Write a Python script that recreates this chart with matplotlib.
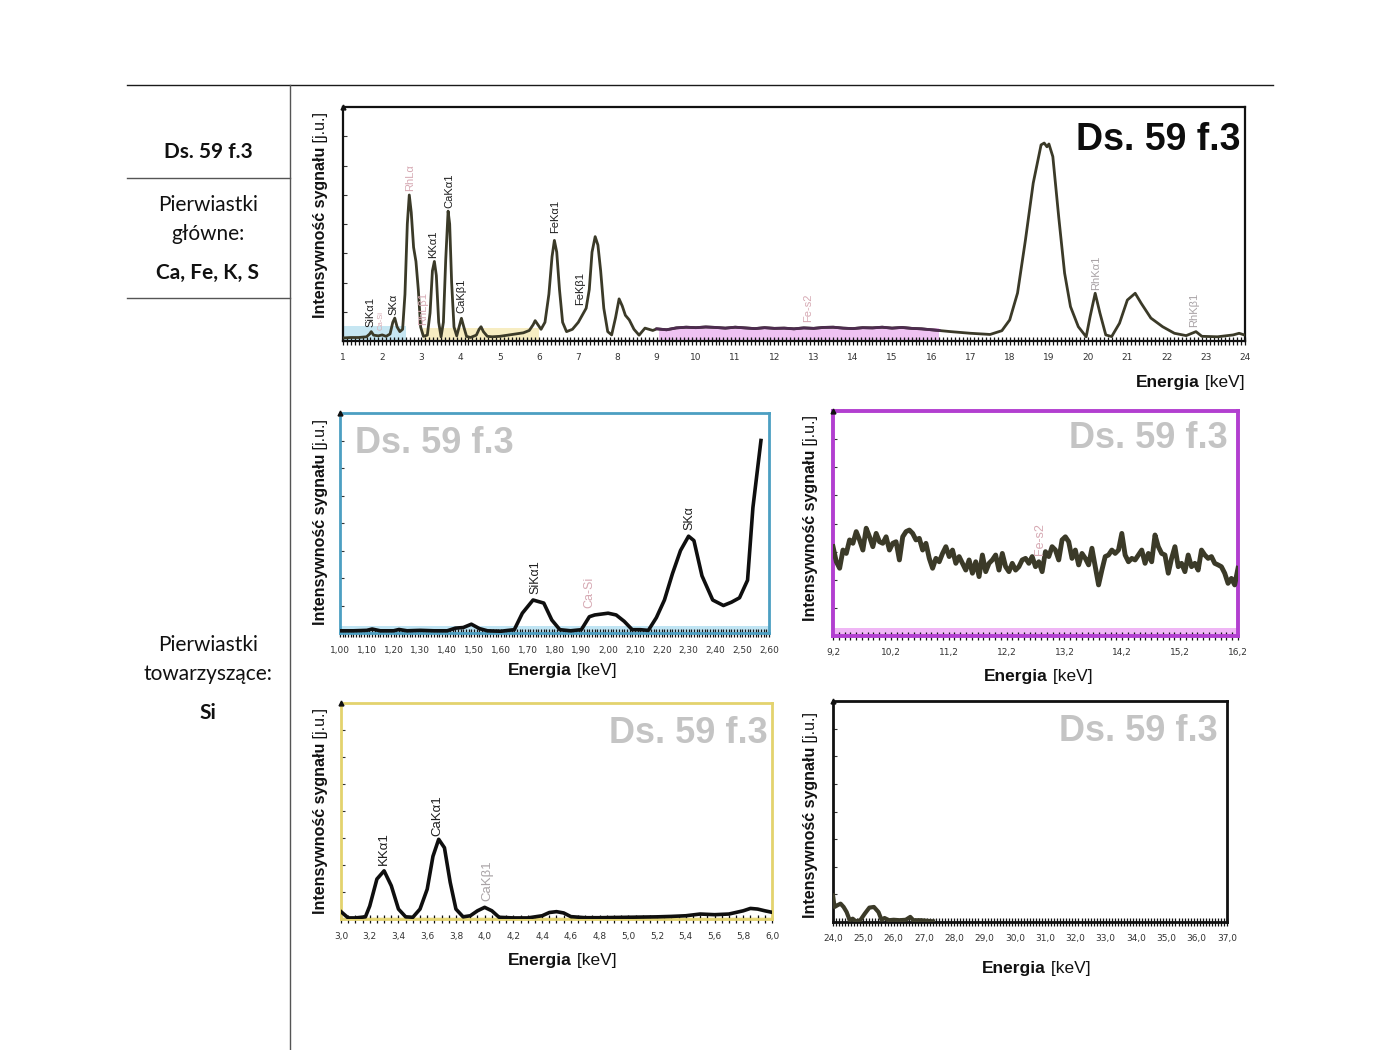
import matplotlib
matplotlib.use("Agg")
import matplotlib.pyplot as plt
import numpy as np
from matplotlib.lines import Line2D
from matplotlib import font_manager

# ---------------- data ----------------
main_E = [1.0, 1.2, 1.4, 1.6, 1.68, 1.72, 1.78, 1.9, 2.0, 2.1, 2.2, 2.27, 2.32, 2.38, 2.45, 2.52,
          2.58, 2.64, 2.69, 2.74, 2.8, 2.86, 2.92, 2.98, 3.05, 3.15, 3.22, 3.28, 3.33, 3.38, 3.44,
          3.5, 3.56, 3.62, 3.68, 3.72, 3.77, 3.83, 3.9, 3.96, 4.02, 4.08, 4.15, 4.25, 4.4, 4.47,
          4.52, 4.58, 4.68, 4.8, 5.0, 5.2, 5.4, 5.6, 5.75, 5.85, 5.9, 5.97, 6.05, 6.15, 6.25, 6.33,
          6.39, 6.45, 6.52, 6.6, 6.7, 6.85, 7.0, 7.1, 7.2, 7.28, 7.35, 7.43, 7.5, 7.57, 7.65, 7.75,
          7.85, 7.95, 8.04, 8.12, 8.2, 8.3, 8.42, 8.55, 8.7, 8.8, 8.9, 9.0]
main_I = [1.3, 1.5, 1.5, 1.8, 3.0, 4.0, 2.5, 2.2, 2.6, 2.0, 3.0, 8.0, 9.8, 6.0, 4.0, 5.0,
          20.0, 50.0, 62.4, 55.0, 40.0, 34.0, 22.0, 6.0, 2.0, 2.5, 12.0, 30.0, 34.0, 28.0, 8.0,
          1.8, 8.0, 35.0, 55.5, 50.0, 25.0, 6.0, 2.2, 6.0, 9.7, 6.0, 2.0, 1.5, 2.5, 5.0,
          6.1, 4.0, 2.0, 1.8, 2.0, 2.5, 3.0, 3.5, 4.5, 7.0, 8.7, 7.0, 5.0, 8.0, 20.0, 36.0,
          43.0, 38.0, 22.0, 8.0, 4.0, 5.0, 8.0, 11.0, 14.0, 22.0, 38.0, 44.6, 41.0, 30.0, 14.0, 4.0,
          2.6, 10.0, 18.0, 15.0, 11.0, 9.0, 5.0, 2.5, 5.5, 5.0, 4.5, 5.2]
mid_E = [9.25, 9.5, 9.75, 10.0, 10.25, 10.5, 10.75, 11.0, 11.25, 11.5, 11.75, 12.0, 12.25, 12.5,
         12.75, 13.0, 13.25, 13.5, 13.75, 14.0, 14.25, 14.5, 14.75, 15.0, 15.25, 15.5, 15.75, 16.0]
mid_I = [4.8, 5.6, 5.9, 5.7, 6.0, 5.8, 5.5, 5.9, 5.6, 5.3, 5.7, 5.4, 5.5, 5.2,
         5.6, 5.4, 5.8, 5.9, 5.5, 5.3, 5.7, 5.6, 5.9, 5.5, 5.8, 5.4, 5.2, 4.8]
high_E = [16.2, 16.5, 17.0, 17.5, 17.8, 18.0, 18.2, 18.4, 18.6, 18.8, 18.88, 18.95, 19.0, 19.1,
          19.25, 19.4, 19.55, 19.75, 19.95, 20.05, 20.18, 20.3, 20.45, 20.6, 20.8, 21.0, 21.2,
          21.35, 21.6, 21.9, 22.2, 22.5, 22.75, 22.9, 23.3, 23.7, 23.85, 24.0]
high_I = [4.5, 4.0, 3.3, 2.8, 4.4, 9.0, 20.5, 43.0, 67.5, 83.8, 84.6, 83.0, 84.2, 78.8,
          53.0, 29.0, 14.7, 6.1, 1.8, 10.4, 20.4, 12.0, 2.6, 1.9, 7.6, 17.5, 20.4,
          16.2, 9.8, 6.1, 3.3, 2.3, 4.0, 2.0, 1.8, 2.6, 3.3, 2.5]

blue_E = [1.00, 1.05, 1.10, 1.12, 1.15, 1.20, 1.22, 1.25, 1.30, 1.35, 1.40, 1.43, 1.46, 1.49, 1.52,
          1.55, 1.60, 1.65, 1.68, 1.72, 1.76, 1.79, 1.82, 1.86, 1.90, 1.93, 1.95, 2.00, 2.03, 2.06,
          2.09, 2.12, 2.15, 2.18, 2.21, 2.24, 2.27, 2.30, 2.32, 2.35, 2.39, 2.43, 2.46, 2.49, 2.52,
          2.54, 2.57]
blue_I = [1.0, 1.0, 1.2, 1.8, 1.0, 1.0, 1.6, 1.0, 1.2, 1.0, 1.0, 2.2, 2.5, 4.0, 2.0,
          1.0, 0.8, 1.5, 9.0, 15.0, 13.6, 5.9, 1.5, 1.0, 1.5, 7.4, 8.2, 9.0, 8.2, 5.3,
          1.5, 1.5, 1.2, 7.0, 15.0, 27.0, 37.5, 44.0, 42.0, 26.0, 15.0, 12.5, 14.0, 16.0, 24.0,
          57.0, 87.5]

purple_I = [39.7, 33.0, 30.1, 38.2, 36.7, 42.7, 41.2, 46.4, 42.7, 38.2, 47.9, 44.1, 39.7, 45.6, 41.9,
            41.2, 44.1, 38.2, 41.2, 41.9, 33.8, 44.1, 46.4, 47.1, 45.6, 42.7, 43.4, 38.2, 41.2, 34.5,
            30.1, 34.5, 33.0, 36.7, 39.7, 35.3, 38.2, 32.3, 35.3, 32.3, 29.3, 33.8, 27.9, 33.0, 26.4,
            36.0, 28.6, 32.3, 33.8, 36.0, 29.3, 36.7, 30.8, 28.6, 32.3, 29.3, 30.8, 33.8, 34.5, 32.3,
            35.3, 30.8, 33.0,
            28.6, 37.5, 35.3, 39.7, 38.2, 33.8, 42.7, 44.1, 41.9, 34.5, 38.2, 31.6, 36.7, 34.5, 31.6,
            39.0, 30.8, 22.7, 29.3, 35.3, 36.0, 38.2, 36.7, 38.2, 45.6, 36.0, 33.0, 34.5, 33.8, 36.0,
            38.2, 32.3, 36.7, 33.0, 44.9, 39.7, 36.7, 36.0, 27.9, 34.5, 39.7, 30.8, 32.3, 28.6, 36.0,
            30.8, 32.3, 29.3, 38.2, 36.0, 34.5, 35.3, 32.3, 31.6, 30.8, 27.9, 23.4, 25.6, 22.7, 30.1]
purple_E = np.linspace(9.2, 16.2, len(purple_I))  # sampling grid of the trace

yellow_E = [3.00, 3.05, 3.10, 3.17, 3.20, 3.25, 3.30, 3.35, 3.40, 3.45, 3.50, 3.55, 3.60, 3.64, 3.68,
            3.72, 3.76, 3.80, 3.85, 3.90, 3.95, 4.00, 4.05, 4.10, 4.20, 4.30, 4.40, 4.45, 4.50, 4.55,
            4.60, 4.70, 4.80, 5.00, 5.20, 5.30, 5.40, 5.50, 5.60, 5.70, 5.80, 5.85, 5.90, 5.95, 6.00]
yellow_I = [3.4, 0.5, 0.5, 1.0, 6.0, 18.5, 22.3, 15.4, 4.6, 1.0, 0.8, 4.6, 13.8, 29.0, 36.9,
            33.0, 17.0, 4.6, 1.0, 1.5, 3.8, 5.4, 3.8, 0.8, 0.5, 0.5, 1.5, 3.0, 3.4, 2.8,
            1.1, 0.6, 0.6, 0.8, 1.0, 1.2, 1.5, 2.3, 2.0, 2.3, 3.8, 4.9, 4.6, 3.8, 3.1]

black_E = [24.0, 24.05, 24.15, 24.25, 24.35, 24.45, 24.55, 24.65, 24.75, 24.9, 25.05, 25.2, 25.35,
           25.5, 25.6, 25.7, 25.85, 26.0, 26.2, 26.4, 26.55, 26.65, 26.9, 27.3]
black_I = [12.0, 6.8, 7.6, 8.3, 6.8, 4.5, 0.8, 1.5, 0.3, 0.8, 3.8, 6.5, 6.8,
           4.5, 1.0, 1.8, 0.8, 1.0, 0.8, 1.0, 2.3, 0.8, 0.8, 0.3]

# peak annotations: (text, energy, height of text base, kind)
main_labels = [("SiKα1", 1.70, 6.0, "k"), ("SKα", 2.3, 11.0, "k"),
               ("RhLα", 2.7, 64.0, "p"), ("RhLβ1", 3.05, 7.0, "p"), ("KKα1", 3.3, 35.5, "k"),
               ("CaKα1", 3.7, 57.0, "k"), ("CaKβ1", 4.02, 12.0, "k"), ("FeKα1", 6.4, 46.0, "k"),
               ("FeKβ1", 7.05, 15.4, "k"), ("Fe-s2", 12.85, 8.0, "p"), ("RhKα1", 20.2, 22.0, "g"),
               ("RhKβ1", 22.7, 6.0, "g")]
main_small_labels = [("Ca-Si", 1.97, 4.5, "p")]
blue_labels = [("SiKα1", 1.73, 17.5, "k"), ("Ca-Si", 1.93, 11.4, "p"), ("SKα", 2.305, 47.0, "k")]
purple_labels = [("Fe-s2", 12.78, 36.0, "p")]
yellow_labels = [("KKα1", 3.30, 25.0, "k"), ("CaKα1", 3.67, 38.5, "k"), ("CaKβ1", 4.02, 8.3, "g")]

main_ticks = list(range(1, 25))
blue_ticks = [1.00, 1.10, 1.20, 1.30, 1.40, 1.50, 1.60, 1.70, 1.80, 1.90, 2.00, 2.10, 2.20, 2.30,
              2.40, 2.50, 2.60]
purple_ticks = [9.2, 10.2, 11.2, 12.2, 13.2, 14.2, 15.2, 16.2]
yellow_ticks = [3.0, 3.2, 3.4, 3.6, 3.8, 4.0, 4.2, 4.4, 4.6, 4.8, 5.0, 5.2, 5.4, 5.6, 5.8, 6.0]
black_ticks = [24.0, 25.0, 26.0, 27.0, 28.0, 29.0, 30.0, 31.0, 32.0, 33.0, 34.0, 35.0, 36.0, 37.0]

# ---------------- styling ----------------
names = {f.name for f in font_manager.fontManager.ttflist}
SANS = "Liberation Sans" if "Liberation Sans" in names else "DejaVu Sans"
NARROW = "Liberation Sans Narrow" if "Liberation Sans Narrow" in names else SANS
DOC = "Lato" if "Lato" in names else SANS
LINE = "#3b3a28"
LABEL_COL = {"k": "#1e1e1e", "p": "#d6a9b3", "g": "#a9a3a6"}

W, H = 1400, 1050
fig = plt.figure(figsize=(14, 10.5), dpi=100)
fig.patch.set_facecolor("white")


def fx(px):
    return px / W


def fy(py):
    return 1 - py / H


def hline(x0, x1, y, col="#1a1a1a", lw=1.0):
    fig.add_artist(Line2D([fx(x0), fx(x1)], [fy(y), fy(y)], color=col, lw=lw))


def vline(x, y0, y1, col="#555555", lw=1.0):
    fig.add_artist(Line2D([fx(x), fx(x)], [fy(y0), fy(y1)], color=col, lw=lw))


# document table lines
hline(127, 1273, 85)
vline(290, 85, 1050)
hline(127, 290, 178, col="#555555")
hline(127, 290, 298, col="#555555")

doc_texts = [("Ds. 59 f.3", 152, "bold"), ("Pierwiastki", 205, "normal"), ("główne:", 234, "normal"),
             ("Ca, Fe, K, S", 273, "bold"), ("Pierwiastki", 645, "normal"),
             ("towarzyszące:", 674, "normal"), ("Si", 713, "bold")]
for txt, py, wt in doc_texts:
    fig.text(fx(208), fy(py), txt, ha="center", va="center", fontsize=15, weight=wt,
             family=DOC, color="#111111")


def make_ax(l, t, r, b, xlim, ticks, fmt, minor_step, edge, elw):
    ax = fig.add_axes([fx(l), fy(b), (r - l) / W, (b - t) / H])
    ax.set_xlim(*xlim)
    ax.set_ylim(0, 100)
    ax.set_xticks(ticks)
    ax.set_xticklabels([fmt(v) for v in ticks])
    ax.set_xticks(np.arange(xlim[0], xlim[1] + minor_step / 2, minor_step), minor=True)
    ax.tick_params(axis="x", which="both", direction="inout", length=6, width=0.9,
                   color="#111111", labelsize=6.5, labelcolor="#333333", pad=6)
    ax.set_yticks(np.arange(0, 100, 12.5))
    ax.set_yticklabels([])
    ax.tick_params(axis="y", which="both", direction="in", length=3, width=0.8, color="#333333")
    for s in ax.spines.values():
        s.set_color(edge)
        s.set_linewidth(elw)
    ax.plot([0], [1], marker="^", color="#111111", markersize=3.5, transform=ax.transAxes,
            clip_on=False, zorder=6)
    return ax


def peak_labels(ax, labels, size):
    for txt, e, base, kind in labels:
        ax.text(e, base, txt, rotation=90, ha="center", va="bottom", fontsize=size,
                family=SANS, color=LABEL_COL[kind], zorder=5)


def comma(d):
    return lambda v: f"{v:.{d}f}".replace(".", ",")


# ---------------- main spectrum ----------------
ax0 = make_ax(343, 107, 1245, 341, (1, 24), main_ticks, lambda v: str(int(v)), 0.1, "#111111", 1.6)
ax0.fill_between([1.0, 2.6], 0, 6.4, color="#c6e6f2", zorder=1, lw=0)
ax0.fill_between([3.05, 6.0], 0, 5.5, color="#f7edc2", zorder=1, lw=0)
ax0.fill_between([9.05, 16.2], 0, 5.5, color="#efc2f2", zorder=1, lw=0)
all_E = main_E + mid_E + high_E
all_I = main_I + mid_I + high_I
ax0.plot(all_E, all_I, color=LINE, lw=2.0, zorder=3, solid_joinstyle="round")
ax0.plot([9.0] + mid_E + [16.2], [5.2] + mid_I + [4.5], color="#4d2c4f", lw=2.0, zorder=4)
peak_labels(ax0, main_labels, 8)
peak_labels(ax0, main_small_labels, 5.5)
ax0.text(0.995, 0.86, "Ds. 59 f.3", transform=ax0.transAxes, ha="right", va="center",
         fontsize=27, weight="bold", family=SANS, color="#0d0d0d")

# ---------------- zoom panels ----------------
GREY_T = "#c4c4c4"

ax1 = make_ax(340, 413, 769, 633, (1.0, 2.6), blue_ticks, comma(2), 0.01, "#4c9fc2", 2.0)
ax1.fill_between([1.0, 2.6], 0, 3.0, color="#bfe4f3", zorder=1, lw=0)
ax1.plot(blue_E, blue_I, color="#0f0f0f", lw=2.6, zorder=3, solid_joinstyle="round")
peak_labels(ax1, blue_labels, 9)
ax1.text(0.035, 0.86, "Ds. 59 f.3", transform=ax1.transAxes, ha="left", va="center",
         fontsize=26, weight="bold", family=SANS, color=GREY_T)

ax2 = make_ax(833, 411, 1238, 636, (9.2, 16.2), purple_ticks, comma(1), 0.1, "#b23fd0", 2.8)
ax2.fill_between([9.2, 16.2], 0, 3.5, color="#efb6f5", zorder=1, lw=0)
ax2.plot(purple_E, purple_I, color=LINE, lw=3.5, zorder=3, solid_joinstyle="round")
peak_labels(ax2, purple_labels, 9)
ax2.text(0.975, 0.88, "Ds. 59 f.3", transform=ax2.transAxes, ha="right", va="center",
         fontsize=26, weight="bold", family=SANS, color=GREY_T)

ax3 = make_ax(341, 703, 772, 919, (3.0, 6.0), yellow_ticks, comma(1), 0.05, "#e3d36e", 2.0)
ax3.fill_between([3.0, 6.0], 0, 1.0, color="#f9f3d4", zorder=1, lw=0)
ax3.plot(yellow_E, yellow_I, color="#0f0f0f", lw=2.6, zorder=3, solid_joinstyle="round")
peak_labels(ax3, yellow_labels, 9.5)
ax3.text(0.99, 0.86, "Ds. 59 f.3", transform=ax3.transAxes, ha="right", va="center",
         fontsize=26, weight="bold", family=SANS, color=GREY_T)

ax4 = make_ax(833, 701, 1227, 922, (24.0, 37.0), black_ticks, comma(1), 0.1, "#111111", 2.0)
ax4.plot(black_E, black_I, color=LINE, lw=3.0, zorder=3, solid_joinstyle="round")
ax4.text(0.975, 0.86, "Ds. 59 f.3", transform=ax4.transAxes, ha="right", va="center",
         fontsize=26, weight="bold", family=SANS, color=GREY_T)

# ---------------- axis titles (bold part + normal part) ----------------
fig.canvas.draw()
renderer = fig.canvas.get_renderer()


def combo(px, py, s1, s2, size, rot):
    kw = dict(family=NARROW, fontsize=size, color="#111111")
    if rot == 0:
        t1 = fig.text(0, fy(py), s1, weight="bold", ha="left", va="center", **kw)
        t2 = fig.text(0, fy(py), " " + s2, ha="left", va="center", **kw)
        w1 = t1.get_window_extent(renderer).width
        w2 = t2.get_window_extent(renderer).width
        x0 = px - (w1 + w2) / 2
        t1.set_x(fx(x0))
        t2.set_x(fx(x0 + w1))
    else:
        t1 = fig.text(fx(px), 0, s1, weight="bold", rotation=90, ha="center", va="bottom", **kw)
        t2 = fig.text(fx(px), 0, " " + s2, rotation=90, ha="center", va="bottom", **kw)
        h1 = t1.get_window_extent(renderer).height
        h2 = t2.get_window_extent(renderer).height
        ybot = (H - py) - (h1 + h2) / 2
        t1.set_y(ybot / H)
        t2.set_y((ybot + h1) / H)


for px, py in [(320, 215), (320, 522), (810, 518), (320, 811), (810, 815)]:
    combo(px, py, "Intensywność sygnału", "[j.u.]", 11.5, 90)
for px, py in [(1190, 382), (562, 670), (1038, 677), (562, 961), (1036, 968)]:
    combo(px, py, "Energia", "[keV]", 12.5, 0)

fig.savefig("out.png", dpi=100, facecolor="white")
